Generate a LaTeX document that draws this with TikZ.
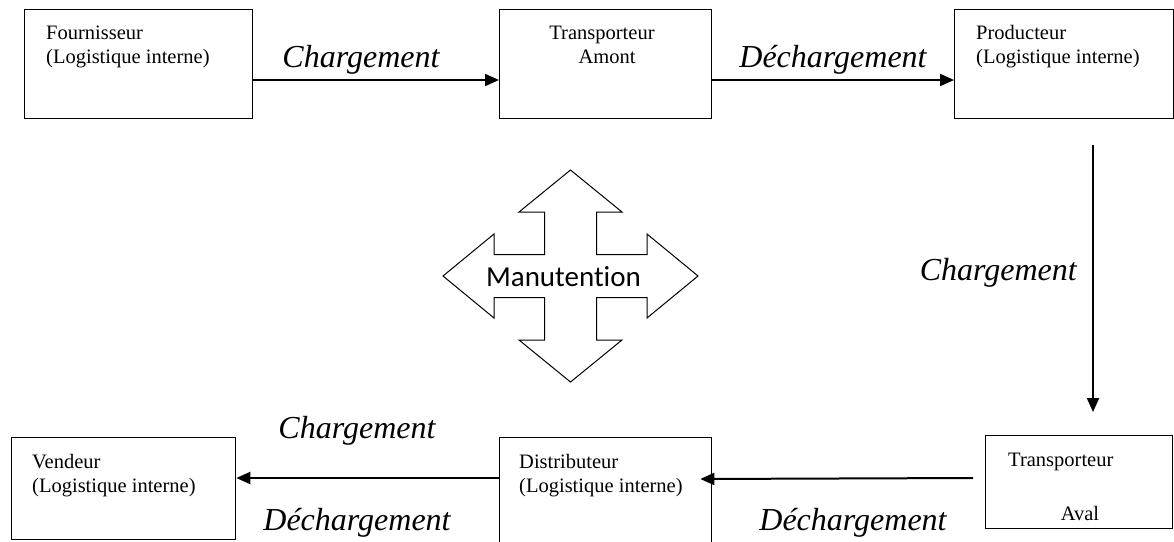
\documentclass[tikz,border=0pt]{standalone}
\usepackage{fontspec}
\setmainfont{Liberation Serif}
\newfontfamily\calib[Ligatures=NoCommon]{Carlito}
\usetikzlibrary{arrows.meta}

\begin{document}
\begin{tikzpicture}[x=1pt,y=-1pt,
  box/.style={draw, line width=1.3pt, inner sep=0pt, anchor=north west},
  flow/.style={-{Triangle[length=14pt,width=12pt]}, line width=2pt},
  lbl/.style={font=\fontsize{32}{32}\selectfont\itshape, inner sep=0pt, anchor=base},
  txt/.style={font=\fontsize{20.5}{24}\selectfont, anchor=base west, inner sep=0pt},
  ctxt/.style={font=\fontsize{20.5}{24}\selectfont, anchor=base, inner sep=0pt}]
\useasboundingbox (0,0) rectangle (1174,541);

% boxes of the upper row
\node[box, minimum width=228pt, minimum height=109pt] (four) at (24,9) {};
\node[box, minimum width=212pt, minimum height=109pt] (tamont) at (499,9) {};
\node[box, minimum width=219pt, minimum height=109pt] (prod) at (954,9) {};

% boxes of the lower row
\node[box, minimum width=187pt, minimum height=93pt] (taval) at (985,435) {};
\node[box, minimum width=212pt, minimum height=110pt] (dist) at (499,437) {};
\node[box, minimum width=224pt, minimum height=102pt] (vend) at (11,437) {};

% box texts
\node[txt] (tfour1) at (46,39) {Fournisseur};
\node[txt] (tfour2) at (46,63) {(Logistique interne)};
\node[ctxt] (tamont1) at (602,39) {Transporteur};
\node[ctxt] (tamont2) at (607,63) {Amont};
\node[txt] (tprod1) at (976,39) {Producteur};
\node[txt] (tprod2) at (976,63) {(Logistique interne)};
\node[txt] (taval1) at (1008,466) {Transporteur};
\node[ctxt] (taval2) at (1080,520) {Aval};
\node[txt] (tdist1) at (519,468) {Distributeur};
\node[txt] (tdist2) at (519,492) {(Logistique interne)};
\node[txt] (tvend1) at (32,468) {Vendeur};
\node[txt] (tvend2) at (32,492) {(Logistique interne)};

% flows of the upper row
\draw[flow] ([yshift=-71pt]four.north east) -- ([yshift=-71pt]tamont.north west);
\draw[flow] ([yshift=-71pt]tamont.north east) -- ([yshift=-71pt]prod.north west);
\node[lbl] (l1) at (361,67) {Chargement};
\node[lbl] (l2) at (833,67) {Déchargement};

% downward flow
\coordinate (vtop) at (1093,145);
\coordinate (vbot) at (1093,412);
\draw[flow] (vtop) -- (vbot);
\node[lbl, anchor=base east] (l3) at (1077,280) {Chargement};

% flows of the lower row
\draw[flow] ([xshift=-12pt,yshift=-43pt]taval.north west) -- ([xshift=-12pt,yshift=-42pt]dist.north east);
\draw[flow] ([yshift=-41pt]dist.north west) -- ([yshift=-41pt]vend.north east);
\node[lbl] (l4) at (853,530) {Déchargement};
\node[lbl] (l5) at (357,438) {Chargement};
\node[lbl] (l6) at (357,530) {Déchargement};

% four-way handling arrow
\coordinate (m) at (570.5,276);
\draw[line width=1pt, line join=miter, shift={(m)}]
  (0,-106) -- (51.5,-64) -- (26,-64) -- (26,-21.5) -- (76.5,-21.5) -- (76.5,-42)
  -- (127.5,0) -- (76.5,42) -- (76.5,21.5) -- (26,21.5) -- (26,64) -- (51.5,64)
  -- (0,106) -- (-51.5,64) -- (-26,64) -- (-26,21.5) -- (-76.5,21.5) -- (-76.5,42)
  -- (-127.5,0) -- (-76.5,-42) -- (-76.5,-21.5) -- (-26,-21.5) -- (-26,-64)
  -- (-51.5,-64) -- cycle;
\node[font=\calib\fontsize{29}{29}\selectfont, inner sep=0pt, anchor=base] (manu) at (563.5,286) {Manutention};
\end{tikzpicture}
\end{document}
